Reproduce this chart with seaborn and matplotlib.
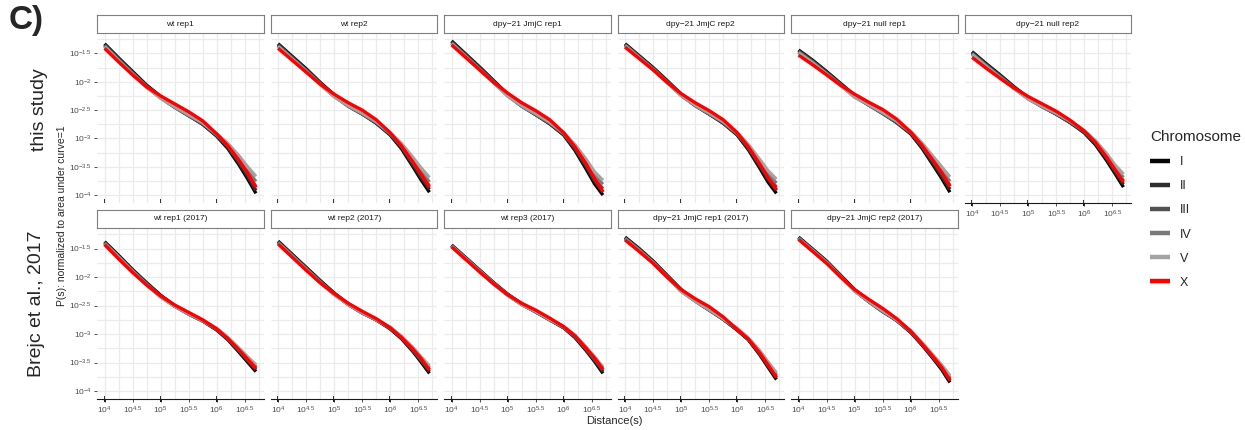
import numpy as np
import pandas as pd
import matplotlib
matplotlib.use("Agg")
import matplotlib.pyplot as plt
import seaborn as sns
from matplotlib.lines import Line2D
from matplotlib.ticker import FixedLocator, FixedFormatter, NullFormatter

# ---------------- data (log10 values) ----------------
panel_titles = ["wt rep1", "wt rep2", "dpy\u221221 JmjC rep1", "dpy\u221221 JmjC rep2",
                "dpy\u221221 null rep1", "dpy\u221221 null rep2",
                "wt rep1 (2017)", "wt rep2 (2017)", "wt rep3 (2017)",
                "dpy\u221221 JmjC rep1 (2017)", "dpy\u221221 JmjC rep2 (2017)"]
chromosomes = ["I", "II", "III", "IV", "V", "X"]
log_distance = [4.0, 4.25, 4.5, 4.75, 5.0, 5.25, 5.5, 5.75, 6.0, 6.2, 6.4, 6.55, 6.7]

chr_I = [
    [-1.33, -1.58, -1.82, -2.06, -2.26, -2.44, -2.59, -2.75, -2.96, -3.18, -3.47, -3.71, -3.97],
    [-1.33, -1.55, -1.77, -2.01, -2.23, -2.42, -2.56, -2.73, -2.94, -3.18, -3.49, -3.73, -3.95],
    [-1.28, -1.51, -1.74, -1.98, -2.22, -2.42, -2.58, -2.74, -2.94, -3.21, -3.54, -3.80, -4.00],
    [-1.33, -1.54, -1.75, -1.98, -2.22, -2.41, -2.57, -2.73, -2.94, -3.20, -3.52, -3.77, -3.97],
    [-1.44, -1.62, -1.82, -2.03, -2.24, -2.40, -2.55, -2.72, -2.92, -3.17, -3.47, -3.70, -3.95],
    [-1.47, -1.68, -1.88, -2.09, -2.28, -2.43, -2.57, -2.72, -2.90, -3.11, -3.39, -3.62, -3.86],
    [-1.38, -1.62, -1.87, -2.10, -2.32, -2.50, -2.64, -2.77, -2.93, -3.10, -3.32, -3.49, -3.66],
    [-1.37, -1.60, -1.83, -2.06, -2.28, -2.47, -2.62, -2.75, -2.91, -3.08, -3.30, -3.49, -3.69],
    [-1.44, -1.66, -1.88, -2.10, -2.30, -2.47, -2.61, -2.75, -2.89, -3.06, -3.29, -3.48, -3.69],
    [-1.30, -1.50, -1.72, -1.97, -2.22, -2.41, -2.57, -2.74, -2.93, -3.10, -3.36, -3.58, -3.80],
    [-1.30, -1.51, -1.72, -1.97, -2.22, -2.42, -2.60, -2.76, -2.97, -3.19, -3.43, -3.62, -3.85],
]
chr_II = [
    [-1.34, -1.59, -1.83, -2.07, -2.27, -2.45, -2.60, -2.75, -2.95, -3.16, -3.44, -3.67, -3.92],
    [-1.34, -1.56, -1.78, -2.02, -2.24, -2.43, -2.57, -2.73, -2.93, -3.16, -3.46, -3.69, -3.90],
    [-1.29, -1.52, -1.75, -1.99, -2.23, -2.43, -2.58, -2.74, -2.93, -3.19, -3.50, -3.76, -3.95],
    [-1.34, -1.55, -1.76, -1.99, -2.23, -2.42, -2.57, -2.73, -2.93, -3.18, -3.49, -3.73, -3.92],
    [-1.45, -1.63, -1.83, -2.04, -2.25, -2.41, -2.56, -2.72, -2.91, -3.15, -3.44, -3.66, -3.90],
    [-1.48, -1.69, -1.89, -2.10, -2.29, -2.44, -2.57, -2.72, -2.89, -3.09, -3.36, -3.59, -3.81],
    [-1.39, -1.63, -1.88, -2.11, -2.33, -2.51, -2.65, -2.77, -2.92, -3.09, -3.30, -3.47, -3.63],
    [-1.38, -1.61, -1.84, -2.07, -2.29, -2.48, -2.63, -2.75, -2.90, -3.07, -3.29, -3.47, -3.66],
    [-1.44, -1.66, -1.88, -2.10, -2.31, -2.48, -2.61, -2.75, -2.89, -3.05, -3.28, -3.46, -3.66],
    [-1.31, -1.51, -1.73, -1.98, -2.23, -2.42, -2.58, -2.74, -2.93, -3.10, -3.35, -3.56, -3.77],
    [-1.31, -1.52, -1.73, -1.98, -2.23, -2.43, -2.60, -2.76, -2.97, -3.18, -3.42, -3.60, -3.82],
]
chr_III = [
    [-1.36, -1.61, -1.85, -2.08, -2.28, -2.45, -2.60, -2.74, -2.94, -3.14, -3.40, -3.62, -3.85],
    [-1.36, -1.58, -1.80, -2.03, -2.25, -2.43, -2.57, -2.72, -2.92, -3.14, -3.42, -3.64, -3.84],
    [-1.31, -1.54, -1.77, -2.00, -2.24, -2.43, -2.58, -2.73, -2.92, -3.16, -3.46, -3.71, -3.89],
    [-1.35, -1.56, -1.77, -2.00, -2.24, -2.42, -2.57, -2.72, -2.92, -3.16, -3.45, -3.68, -3.86],
    [-1.47, -1.65, -1.85, -2.05, -2.26, -2.41, -2.56, -2.71, -2.90, -3.13, -3.40, -3.61, -3.83],
    [-1.50, -1.71, -1.91, -2.11, -2.30, -2.44, -2.57, -2.71, -2.88, -3.07, -3.33, -3.55, -3.75],
    [-1.40, -1.64, -1.89, -2.12, -2.34, -2.51, -2.65, -2.77, -2.92, -3.08, -3.29, -3.45, -3.60],
    [-1.39, -1.62, -1.85, -2.08, -2.30, -2.48, -2.63, -2.75, -2.90, -3.06, -3.27, -3.45, -3.62],
    [-1.45, -1.67, -1.89, -2.11, -2.31, -2.48, -2.61, -2.75, -2.88, -3.04, -3.26, -3.44, -3.63],
    [-1.32, -1.52, -1.74, -1.99, -2.24, -2.42, -2.58, -2.74, -2.92, -3.09, -3.33, -3.54, -3.74],
    [-1.32, -1.53, -1.74, -1.99, -2.24, -2.43, -2.61, -2.76, -2.96, -3.17, -3.41, -3.58, -3.79],
]
chr_IV = [
    [-1.37, -1.62, -1.86, -2.09, -2.29, -2.45, -2.59, -2.73, -2.93, -3.11, -3.35, -3.56, -3.76],
    [-1.37, -1.59, -1.81, -2.04, -2.26, -2.43, -2.56, -2.71, -2.91, -3.11, -3.37, -3.58, -3.77],
    [-1.32, -1.55, -1.78, -2.01, -2.25, -2.43, -2.57, -2.72, -2.91, -3.13, -3.41, -3.65, -3.81],
    [-1.36, -1.57, -1.78, -2.01, -2.24, -2.42, -2.56, -2.71, -2.91, -3.13, -3.41, -3.63, -3.79],
    [-1.48, -1.66, -1.86, -2.06, -2.27, -2.41, -2.55, -2.70, -2.89, -3.10, -3.36, -3.55, -3.76],
    [-1.51, -1.72, -1.92, -2.12, -2.30, -2.44, -2.56, -2.70, -2.87, -3.05, -3.30, -3.51, -3.69],
    [-1.41, -1.65, -1.90, -2.13, -2.35, -2.51, -2.65, -2.77, -2.91, -3.07, -3.27, -3.42, -3.57],
    [-1.40, -1.63, -1.86, -2.09, -2.30, -2.48, -2.63, -2.75, -2.89, -3.05, -3.25, -3.42, -3.59],
    [-1.46, -1.68, -1.90, -2.12, -2.32, -2.48, -2.61, -2.75, -2.88, -3.03, -3.25, -3.42, -3.60],
    [-1.33, -1.53, -1.75, -2.00, -2.25, -2.42, -2.57, -2.73, -2.91, -3.08, -3.31, -3.51, -3.71],
    [-1.32, -1.53, -1.74, -1.99, -2.24, -2.43, -2.60, -2.75, -2.95, -3.16, -3.39, -3.56, -3.76],
]
chr_V = [
    [-1.38, -1.63, -1.87, -2.10, -2.29, -2.44, -2.58, -2.72, -2.92, -3.09, -3.31, -3.50, -3.67],
    [-1.38, -1.60, -1.82, -2.05, -2.26, -2.42, -2.55, -2.70, -2.90, -3.09, -3.33, -3.52, -3.69],
    [-1.33, -1.56, -1.79, -2.02, -2.25, -2.42, -2.56, -2.71, -2.90, -3.11, -3.37, -3.59, -3.74],
    [-1.37, -1.58, -1.79, -2.02, -2.24, -2.41, -2.55, -2.70, -2.90, -3.11, -3.37, -3.57, -3.72],
    [-1.49, -1.67, -1.87, -2.07, -2.27, -2.40, -2.54, -2.69, -2.88, -3.08, -3.32, -3.50, -3.68],
    [-1.52, -1.73, -1.93, -2.12, -2.30, -2.43, -2.55, -2.69, -2.86, -3.04, -3.27, -3.47, -3.63],
    [-1.42, -1.66, -1.91, -2.14, -2.35, -2.51, -2.64, -2.76, -2.90, -3.06, -3.25, -3.40, -3.54],
    [-1.41, -1.64, -1.87, -2.10, -2.31, -2.48, -2.62, -2.74, -2.88, -3.04, -3.23, -3.40, -3.56],
    [-1.46, -1.68, -1.90, -2.12, -2.32, -2.48, -2.60, -2.74, -2.87, -3.02, -3.23, -3.40, -3.58],
    [-1.34, -1.54, -1.75, -2.00, -2.25, -2.42, -2.57, -2.73, -2.90, -3.07, -3.29, -3.49, -3.68],
    [-1.33, -1.54, -1.75, -2.00, -2.24, -2.42, -2.59, -2.75, -2.94, -3.15, -3.37, -3.54, -3.73],
]
chr_X = [
    [-1.41, -1.65, -1.88, -2.09, -2.25, -2.39, -2.53, -2.69, -2.92, -3.13, -3.39, -3.61, -3.87],
    [-1.41, -1.62, -1.83, -2.04, -2.22, -2.37, -2.50, -2.67, -2.90, -3.13, -3.41, -3.63, -3.86],
    [-1.35, -1.57, -1.79, -2.01, -2.20, -2.37, -2.51, -2.67, -2.90, -3.15, -3.45, -3.71, -3.94],
    [-1.39, -1.59, -1.79, -2.01, -2.21, -2.37, -2.51, -2.67, -2.90, -3.15, -3.45, -3.69, -3.90],
    [-1.53, -1.70, -1.88, -2.06, -2.22, -2.36, -2.49, -2.66, -2.89, -3.12, -3.39, -3.60, -3.85],
    [-1.57, -1.76, -1.94, -2.11, -2.26, -2.39, -2.52, -2.68, -2.87, -3.07, -3.33, -3.55, -3.77],
    [-1.43, -1.68, -1.92, -2.14, -2.33, -2.49, -2.62, -2.75, -2.91, -3.08, -3.28, -3.44, -3.60],
    [-1.42, -1.65, -1.88, -2.10, -2.29, -2.46, -2.60, -2.73, -2.89, -3.06, -3.26, -3.43, -3.63],
    [-1.47, -1.69, -1.91, -2.12, -2.31, -2.46, -2.58, -2.72, -2.87, -3.03, -3.25, -3.42, -3.62],
    [-1.35, -1.55, -1.76, -2.00, -2.22, -2.38, -2.52, -2.70, -2.92, -3.09, -3.33, -3.54, -3.76],
    [-1.34, -1.55, -1.76, -2.00, -2.22, -2.39, -2.55, -2.73, -2.95, -3.17, -3.40, -3.58, -3.81],
]
x_tick_exps = [4.0, 4.5, 5.0, 5.5, 6.0, 6.5]
x_tick_labels = ["$10^{4}$", "$10^{4.5}$", "$10^{5}$", "$10^{5.5}$", "$10^{6}$", "$10^{6.5}$"]
y_tick_exps = [-1.5, -2.0, -2.5, -3.0, -3.5, -4.0]
y_tick_labels = ["$10^{-1.5}$", "$10^{-2}$", "$10^{-2.5}$", "$10^{-3}$", "$10^{-3.5}$", "$10^{-4}$"]

palette = {"I": "#050505", "II": "#2e2e2e", "III": "#525252",
           "IV": "#7a7a7a", "V": "#a3a3a3", "X": "#ff0000"}

# ---------------- style ----------------
sns.set_theme(style="white")
plt.rcParams["font.family"] = ["Liberation Sans", "DejaVu Sans"]
plt.rcParams["mathtext.fontset"] = "custom"
plt.rcParams["mathtext.rm"] = "Liberation Sans"
plt.rcParams["mathtext.it"] = "Liberation Sans:italic"
plt.rcParams["mathtext.bf"] = "Liberation Sans:bold"
plt.rcParams["lines.solid_capstyle"] = "butt"
plt.rcParams["lines.solid_joinstyle"] = "round"

W, H = 1245, 430
fig = plt.figure(figsize=(W / 100, H / 100), dpi=100)
fig.patch.set_facecolor("white")


def box(l, t, r, b):
    return [l / W, 1 - b / H, (r - l) / W, (b - t) / H]


col_left = [97, 270.5, 444, 617.5, 791, 964.5]
pw = 166.5
rows = [(15, 33, 203), (210, 228, 399)]

all_chr = {"I": chr_I, "II": chr_II, "III": chr_III, "IV": chr_IV, "V": chr_V, "X": chr_X}
grid_color = "#ebebeb"

for i, title in enumerate(panel_titles):
    r = 0 if i < 6 else 1
    c = i if i < 6 else i - 6
    st, pt, pb = rows[r]
    l = col_left[c]
    ax = fig.add_axes(box(l, pt, l + pw, pb))

    recs = []
    for ch in chromosomes:
        for xe, ye in zip(log_distance, all_chr[ch][i]):
            recs.append({"s": 10 ** xe, "P": 10 ** ye, "Chromosome": ch})
    df = pd.DataFrame(recs)
    ax.set_xscale("log")
    ax.set_yscale("log")
    sns.lineplot(data=df, x="s", y="P", hue="Chromosome", hue_order=chromosomes,
                 palette=palette, linewidth=2.4, legend=False, estimator=None,
                 sort=False, ax=ax, zorder=3)
    ax.set_xlim(10 ** 3.865, 10 ** 6.835)
    ax.set_ylim(10 ** -4.14, 10 ** -1.14)
    ax.set_xlabel("")
    ax.set_ylabel("")
    ax.set_facecolor("white")

    # grid
    ax.xaxis.set_major_locator(FixedLocator([10 ** e for e in x_tick_exps]))
    ax.xaxis.set_minor_locator(FixedLocator([10 ** e for e in np.arange(4.25, 6.8, 0.5)]))
    ax.yaxis.set_major_locator(FixedLocator([10 ** e for e in y_tick_exps]))
    ax.yaxis.set_minor_locator(FixedLocator([10 ** e for e in np.arange(-3.75, -1.2, 0.5)]))
    ax.xaxis.set_minor_formatter(NullFormatter())
    ax.yaxis.set_minor_formatter(NullFormatter())
    ax.grid(True, which="major", color=grid_color, linewidth=0.9, zorder=0)
    ax.grid(True, which="minor", color=grid_color, linewidth=0.9, zorder=0)
    ax.set_axisbelow(True)
    ax.tick_params(which="minor", length=0)

    for sp in ax.spines.values():
        sp.set_visible(False)

    show_x = (r == 1) or (c == 5)
    if show_x:
        ax.spines["bottom"].set_visible(True)
        ax.spines["bottom"].set_color("#1a1a1a")
        ax.spines["bottom"].set_linewidth(0.8)
        ax.xaxis.set_major_formatter(FixedFormatter(x_tick_labels))
        ax.tick_params(axis="x", which="major", length=2.5, width=0.6, color="#333333",
                       labelsize=6, labelcolor="#4d4d4d", pad=1.5, bottom=True, direction="out")
        dec_dir = "inout"
        dec_len = 5
    else:
        ax.xaxis.set_major_formatter(NullFormatter())
        ax.tick_params(axis="x", which="major", length=0, bottom=False)
        dec_dir = "in"
        dec_len = 3
    sec = ax.secondary_xaxis("bottom")
    sec.set_xscale("log")
    sec.xaxis.set_major_locator(FixedLocator([1e4, 1e5, 1e6]))
    sec.xaxis.set_major_formatter(NullFormatter())
    sec.xaxis.set_minor_locator(FixedLocator([]))
    sec.tick_params(axis="x", which="major", direction=dec_dir, length=dec_len, width=1.3, color="black")
    sec.spines["bottom"].set_visible(False)

    if c == 0:
        ax.yaxis.set_major_formatter(FixedFormatter(y_tick_labels))
        ax.tick_params(axis="y", which="major", length=2.5, width=0.6, color="#333333",
                       labelsize=6, labelcolor="#4d4d4d", pad=1.5, left=True, direction="out")
    else:
        ax.yaxis.set_major_formatter(NullFormatter())
        ax.tick_params(axis="y", which="major", length=0, left=False)

    # strip
    sa = fig.add_axes(box(l, st, l + pw, pt))
    sa.set_xticks([])
    sa.set_yticks([])
    sa.set_facecolor("white")
    for sp in sa.spines.values():
        sp.set_visible(True)
        sp.set_color("#7f7f7f")
        sp.set_linewidth(0.8)
    sa.text(0.5, 0.5, title, ha="center", va="center", fontsize=6, color="#1a1a1a",
            transform=sa.transAxes)

# texts
fig.text(9 / W, 1 - 21 / H, "C)", fontsize=24, fontweight="bold", ha="left", va="center")
fig.text(39 / W, 1 - 110 / H, "this study", rotation=90, fontsize=14, ha="center", va="center")
fig.text(37 / W, 1 - 304 / H, "Brejc et al., 2017", rotation=90, fontsize=14, ha="center", va="center")
fig.text(62 / W, 1 - 216 / H, "P(s): normalized to area under curve=1", rotation=90,
         fontsize=7.5, ha="center", va="center")
fig.text(614 / W, 1 - 421 / H, "Distance(s)", fontsize=8, ha="center", va="center")

handles = [Line2D([0], [0], color=palette[ch], linewidth=3.2, solid_capstyle="butt") for ch in chromosomes]
leg = fig.legend(handles, chromosomes, title="Chromosome", loc="upper left",
                 bbox_to_anchor=(1150 / W, 1 - 130 / H), frameon=False,
                 fontsize=9, title_fontsize=11, handlelength=1.6, handletextpad=0.8,
                 labelspacing=0.97, borderaxespad=0, borderpad=0)
leg._legend_box.align = "left"

fig.savefig("out.png", dpi=100, facecolor="white")
